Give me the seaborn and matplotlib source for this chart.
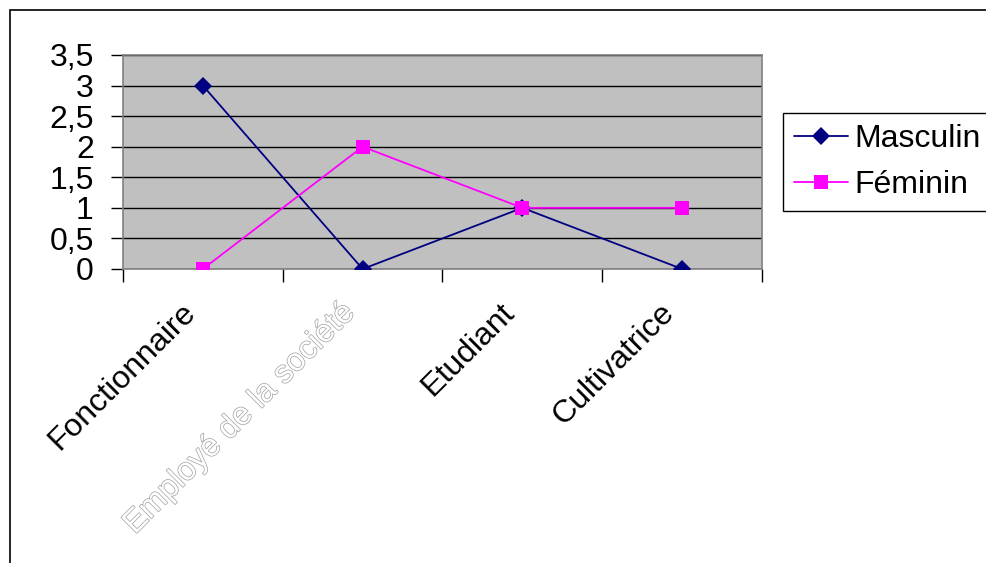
import matplotlib
matplotlib.use("Agg")
import matplotlib.pyplot as plt
import matplotlib.patheffects as pe
from matplotlib.patches import Rectangle
from matplotlib.transforms import ScaledTranslation
from matplotlib.ticker import FixedLocator, MultipleLocator, FuncFormatter
import pandas as pd
import seaborn as sns

# Professions and counts by sex
categories = ["Fonctionnaire", "Employé de la société", "Etudiant", "Cultivatrice"]
masculin = [3, 0, 1, 0]
feminin = [0, 2, 1, 1]
series_names = ["Masculin", "Féminin"]
y_ticks = [0, 0.5, 1, 1.5, 2, 2.5, 3, 3.5]

df = pd.DataFrame({
    "profession": categories * 2,
    "effectif": masculin + feminin,
    "sexe": [series_names[0]] * len(categories) + [series_names[1]] * len(categories),
})

sns.set_style("white")
plt.rcParams["font.family"] = ["Liberation Sans", "DejaVu Sans"]
plt.rcParams["text.color"] = "black"
plt.rcParams["xtick.color"] = "black"
plt.rcParams["ytick.color"] = "black"
plt.rcParams["xtick.labelcolor"] = "black"
plt.rcParams["ytick.labelcolor"] = "black"

W, H = 987, 563
fig = plt.figure(figsize=(W / 100, H / 100), dpi=100)
ax = fig.add_axes([123 / W, 1 - 269 / H, (762 - 123) / W, (269 - 55) / H])
ax.set_facecolor("#C0C0C0")

palette = {"Masculin": "#000080", "Féminin": "#FF00FF"}
sns.lineplot(
    data=df, x="profession", y="effectif", hue="sexe", style="sexe",
    palette=palette, markers={"Masculin": "D", "Féminin": "s"}, dashes=False,
    linewidth=1.3, markersize=9.5, markeredgewidth=0, sort=False, ax=ax, zorder=3,
)

# Axis limits and ticks
ax.set_xlim(-0.5, len(categories) - 0.5)
ax.set_ylim(0, 3.5)
ax.yaxis.set_major_locator(FixedLocator(y_ticks))
ax.yaxis.set_major_formatter(FuncFormatter(lambda v, p: f"{v:g}".replace(".", ",")))
ax.set_xticks(range(len(categories)))
ax.set_xticklabels(categories)
ax.xaxis.set_minor_locator(MultipleLocator(1, offset=0.5))
ax.set_xlabel("")
ax.set_ylabel("")

ax.tick_params(axis="y", which="major", direction="out", length=9, width=1,
               color="black", labelcolor="black", labelsize=23, pad=12, left=True)
ax.tick_params(axis="x", which="major", length=0, labelsize=23, pad=28,
               labelcolor="black")
ax.tick_params(axis="x", which="minor", direction="out", length=9, width=1,
               color="black", bottom=True)

shift = ScaledTranslation(-12 / 100, 0, fig.dpi_scale_trans)
for lab in ax.get_xticklabels():
    lab.set_rotation(45)
    lab.set_ha("right")
    lab.set_va("center")
    lab.set_rotation_mode("anchor")
    lab.set_transform(lab.get_transform() + shift)

# Second category label drawn as pale outlined text
lab2 = ax.get_xticklabels()[1]
lab2.set_color("white")
lab2.set_path_effects([pe.withStroke(linewidth=1.0, foreground="#a0a0a0")])

# Horizontal gridlines
ax.yaxis.grid(True, color="black", linewidth=1)
ax.xaxis.grid(False)
ax.set_axisbelow(True)
for s in ax.spines.values():
    s.set_visible(True)
    s.set_color("#808080")
    s.set_linewidth(1.2)

# Legend
handles, labels = ax.get_legend_handles_labels()
ax.get_legend().remove()
leg = fig.legend(
    handles, labels, loc="upper left", bbox_to_anchor=(783 / W, 1 - 113 / H),
    bbox_transform=fig.transFigure, fontsize=23, frameon=True, fancybox=False,
    edgecolor="black", framealpha=1, borderpad=0.35, borderaxespad=0,
    handlelength=1.7, handletextpad=0.2, labelspacing=0.5,
)
leg.get_frame().set_linewidth(1)
for t in leg.get_texts():
    t.set_color("black")

# Outer chart frame
fig.patches.append(Rectangle((9.5 / W, -0.2), 2, 1 - 9.5 / H + 0.2,
                             transform=fig.transFigure, fill=False,
                             edgecolor="black", linewidth=1.2))

fig.savefig("out.png", dpi=100)
